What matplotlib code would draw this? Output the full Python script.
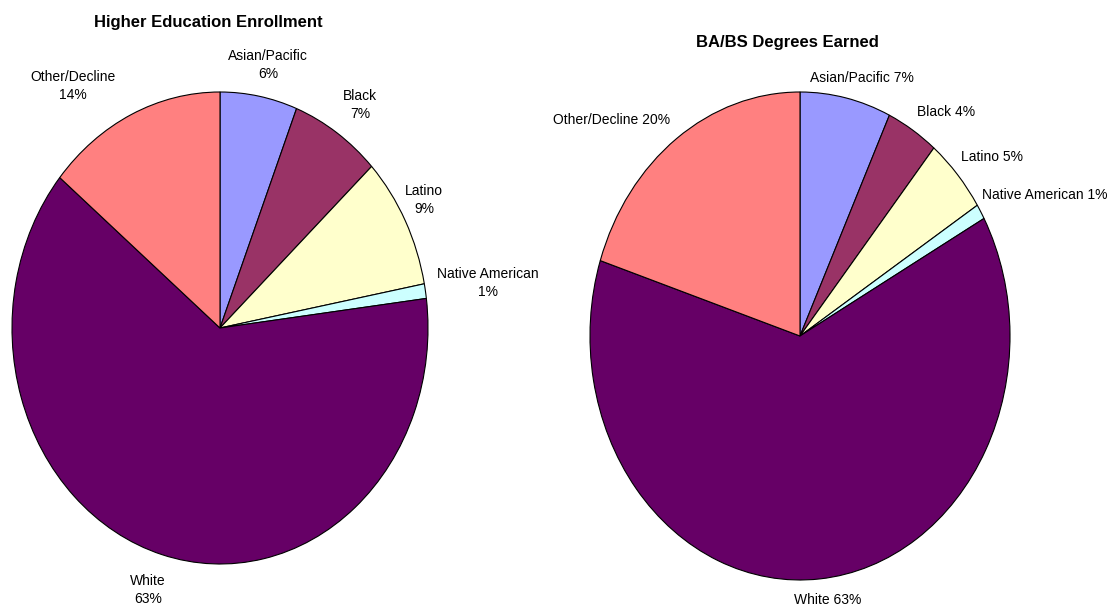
import matplotlib.pyplot as plt

plt.rcParams["font.family"] = ["Liberation Sans", "DejaVu Sans"]

groups = ["Asian/Pacific", "Black", "Latino", "Native American", "White", "Other/Decline"]
enroll = [6, 7, 9, 1, 63, 14]
degrees = [7, 4, 5, 1, 63, 20]
colors = ["#9999FF", "#993366", "#FFFFCC", "#CCFFFF", "#660066", "#FF8080"]

W, H = 1113, 609
fig = plt.figure(figsize=(W / 100, H / 100), dpi=100)


def px(x, y):
    # pixel position -> figure fraction
    return x / W, 1 - y / H


def pie_axes(x0, y0, x1, y1):
    ax = fig.add_axes([x0 / W, 1 - y1 / H, (x1 - x0) / W, (y1 - y0) / H])
    return ax


# left chart
ax1 = pie_axes(12, 92, 428, 564)
ax1.pie(enroll, colors=colors, startangle=90, counterclock=False,
        wedgeprops=dict(edgecolor="black", linewidth=0.8))
ax1.set_aspect("auto")
ax1.set_xlim(-1, 1)
ax1.set_ylim(-1, 1)

# right chart
ax2 = pie_axes(590, 92, 1010, 580)
ax2.pie(degrees, colors=colors, startangle=90, counterclock=False,
        wedgeprops=dict(edgecolor="black", linewidth=0.8))
ax2.set_aspect("auto")
ax2.set_xlim(-1, 1)
ax2.set_ylim(-1, 1)

fig.text(*px(208, 22), "Higher Education Enrollment", ha="center", va="center",
         fontsize=12, fontweight="bold")
fig.text(*px(787, 42), "BA/BS Degrees Earned", ha="center", va="center",
         fontsize=12, fontweight="bold")

# label placement for each chart
left_pos = [(268, 65), (360, 105), (424, 200), (488, 283), (148, 590), (73, 86)]
right_pos = [(862, 78), (946, 112), (992, 157), (1045, 195), (828, 600), (612, 120)]

for name, v, (x, y) in zip(groups, enroll, left_pos):
    fig.text(*px(x, y), f"{name}\n{v}%", ha="center", va="center",
             fontsize=10, linespacing=1.3)
for name, v, (x, y) in zip(groups, degrees, right_pos):
    fig.text(*px(x, y), f"{name} {v}%", ha="center", va="center", fontsize=10)

fig.savefig("out.png", dpi=100)
